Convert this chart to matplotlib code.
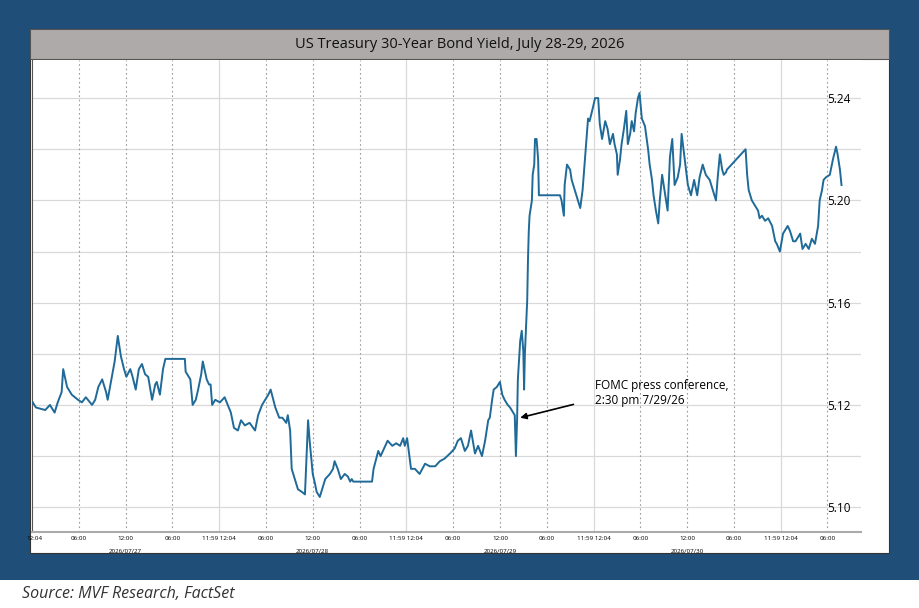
import matplotlib

matplotlib.use("Agg")

import matplotlib.pyplot as plt
from matplotlib.patches import Rectangle
import numpy as np

plt.rcParams["font.family"] = ["Open Sans", "DejaVu Sans"]

# hours since session start (compressed trading axis) and yield in %
HOURS = [
    0.1, 0.5, 1.7, 2.3, 2.9, 3.3, 3.8, 4.0, 4.5, 5.1, 5.9, 6.4, 6.9, 7.7, 8.1, 8.5, 9.0, 9.5, 9.7, 10.3,
    10.6, 11.0, 11.4, 11.8, 12.1, 12.6, 12.9, 13.3, 13.7, 14.1, 14.5, 14.9, 15.4, 15.8, 16.0, 16.4, 16.8, 17.1, 19.6, 19.7,
    20.3, 20.6, 21.0, 21.3, 21.7, 21.9, 22.4, 22.7, 22.9, 23.1, 23.5, 24.1, 24.7, 25.1, 25.5, 25.9, 26.4, 26.8, 27.3, 27.9,
    28.6, 29.0, 29.5, 29.9, 30.3, 30.6, 31.2, 31.7, 32.1, 32.6, 32.8, 33.1, 33.2, 33.3, 33.7, 34.1, 34.6, 35.0, 35.4, 35.6,
    36.0, 36.3, 36.5, 36.9, 37.2, 37.6, 38.2, 38.6, 38.8, 39.2, 39.6, 40.1, 40.5, 40.8, 41.0, 41.2, 43.6, 43.8, 44.4, 44.7,
    45.3, 45.6, 46.2, 46.7, 47.2, 47.6, 47.8, 48.1, 48.6, 49.1, 49.7, 50.4, 51.0, 51.7, 52.3, 52.9, 53.6, 54.2, 54.6, 55.0,
    55.5, 55.9, 56.3, 56.8, 57.2, 57.7, 58.1, 58.5, 58.7, 59.0, 59.2, 59.6, 60.0, 60.3, 60.6, 61.0, 61.3, 61.7, 61.9, 62.05,
    62.2, 62.3, 62.6, 62.8, 63.0, 63.1, 63.2, 63.5, 63.6, 63.7, 63.8, 64.1, 64.2, 64.4, 64.5, 64.7, 64.9, 65.0, 67.7, 67.9,
    68.2, 68.3, 68.6, 69.0, 69.2, 69.6, 70.0, 70.3, 70.6, 70.9, 71.2, 71.3, 71.5, 71.9, 72.2, 72.6, 72.8, 73.1, 73.5, 73.8,
    74.1, 74.5, 74.7, 75.0, 75.1, 75.4, 75.6, 75.9, 76.2, 76.4, 76.7, 76.9, 77.2, 77.4, 77.7, 77.9, 78.2, 78.6, 79.0, 79.2,
    79.5, 79.7, 80.0, 80.3, 80.5, 80.8, 81.2, 81.5, 81.8, 82.1, 82.4, 82.8, 83.1, 83.3, 83.7, 84.1, 84.5, 84.9, 85.3, 85.6,
    86.0, 86.4, 86.9, 87.3, 87.7, 87.9, 88.2, 88.5, 88.7, 89.0, 89.1, 91.5, 91.7, 91.9, 92.3, 92.7, 93.1, 93.3, 93.6, 94.0,
    94.4, 94.9, 95.3, 95.5, 95.9, 96.3, 96.7, 96.9, 97.2, 97.6, 97.9, 98.5, 98.8, 99.2, 99.6, 100.0, 100.4, 100.8, 101.0, 101.3,
    101.5, 101.8, 102.3, 102.7, 103.1, 103.3, 103.6, 103.8,
]
YIELDS = [
    5.121, 5.119, 5.118, 5.120, 5.117, 5.121, 5.125, 5.134, 5.127, 5.124, 5.122, 5.121, 5.123, 5.120, 5.122, 5.127, 5.130, 5.125, 5.122, 5.132,
    5.137, 5.147, 5.139, 5.134, 5.131, 5.134, 5.131, 5.126, 5.134, 5.136, 5.132, 5.131, 5.122, 5.128, 5.129, 5.124, 5.134, 5.138, 5.138, 5.133,
    5.130, 5.120, 5.122, 5.126, 5.132, 5.137, 5.130, 5.128, 5.128, 5.120, 5.122, 5.121, 5.123, 5.120, 5.117, 5.111, 5.110, 5.114, 5.112, 5.113,
    5.110, 5.116, 5.120, 5.122, 5.124, 5.126, 5.119, 5.115, 5.115, 5.113, 5.116, 5.110, 5.102, 5.095, 5.091, 5.087, 5.086, 5.085, 5.114, 5.106,
    5.093, 5.089, 5.086, 5.084, 5.087, 5.091, 5.093, 5.095, 5.098, 5.095, 5.091, 5.093, 5.092, 5.090, 5.091, 5.090, 5.090, 5.095, 5.102, 5.100,
    5.104, 5.106, 5.104, 5.105, 5.104, 5.107, 5.104, 5.107, 5.095, 5.095, 5.093, 5.097, 5.096, 5.096, 5.098, 5.099, 5.101, 5.103, 5.106, 5.107,
    5.102, 5.104, 5.110, 5.101, 5.104, 5.100, 5.106, 5.114, 5.115, 5.122, 5.126, 5.127, 5.129, 5.124, 5.122, 5.120, 5.119, 5.117, 5.116, 5.100,
    5.114, 5.130, 5.145, 5.149, 5.141, 5.126, 5.140, 5.161, 5.177, 5.188, 5.194, 5.200, 5.210, 5.214, 5.224, 5.224, 5.216, 5.202, 5.202, 5.200,
    5.194, 5.206, 5.214, 5.212, 5.208, 5.204, 5.200, 5.197, 5.204, 5.216, 5.228, 5.232, 5.231, 5.236, 5.240, 5.240, 5.230, 5.224, 5.231, 5.228,
    5.222, 5.226, 5.222, 5.218, 5.210, 5.216, 5.222, 5.228, 5.235, 5.222, 5.226, 5.231, 5.227, 5.234, 5.240, 5.242, 5.232, 5.229, 5.220, 5.214,
    5.208, 5.202, 5.196, 5.191, 5.200, 5.210, 5.202, 5.196, 5.217, 5.224, 5.206, 5.209, 5.214, 5.226, 5.216, 5.206, 5.202, 5.208, 5.202, 5.209,
    5.214, 5.210, 5.208, 5.204, 5.200, 5.208, 5.218, 5.212, 5.210, 5.211, 5.212, 5.220, 5.210, 5.204, 5.200, 5.198, 5.196, 5.193, 5.194, 5.192,
    5.193, 5.190, 5.184, 5.183, 5.180, 5.187, 5.189, 5.190, 5.188, 5.184, 5.184, 5.187, 5.181, 5.183, 5.181, 5.185, 5.183, 5.190, 5.200, 5.204,
    5.208, 5.209, 5.210, 5.216, 5.221, 5.218, 5.212, 5.206,
]
TICK_HOURS = [0.3, 6, 12, 18, 24, 30, 36, 42, 48, 54, 60, 66, 72, 78, 84, 90, 96, 102]
TICK_LABELS = ["12:04", "06:00", "12:00", "06:00", "11:59 12:04", "06:00", "12:00", "06:00", "11:59 12:04",
               "06:00", "12:00", "06:00", "11:59 12:04", "06:00", "12:00", "06:00", "11:59 12:04", "06:00"]
DATE_HOURS = [12, 36, 60, 84]
DATE_LABELS = ["2026/07/27", "2026/07/28", "2026/07/29", "2026/07/30"]
Y_TICKS = [5.24, 5.20, 5.16, 5.12, 5.08]
Y_LABELS = ["5.24", "5.20", "5.16", "5.12", "5.10"]

W, H = 919, 608
fig = plt.figure(figsize=(W / 100, H / 100), dpi=100)
fig.patch.set_facecolor("white")


def box(x0, y0, x1, y1, **kw):
    fig.patches.append(Rectangle((x0 / W, 1 - y1 / H), (x1 - x0) / W, (y1 - y0) / H,
                                 transform=fig.transFigure, **kw))


box(0, 0, W, 580, facecolor="#1F4E79", edgecolor="none", zorder=-3)
box(30, 29, 889, 553, facecolor="white", edgecolor="#333333", lw=0.8, zorder=-2)
box(30, 29, 889, 59, facecolor="#AEAAAA", edgecolor="#555555", lw=0.8, zorder=-1)
fig.text((30 + 889) / 2 / W, 1 - 44 / H, "US Treasury 30-Year Bond Yield, July 28-29, 2026",
         ha="center", va="center", fontsize=10.5, color="#111111")
fig.text(22 / W, 1 - 594 / H, "Source: MVF Research, FactSet", ha="left", va="center",
         fontsize=11.5, style="italic", color="#333333")

ax = fig.add_axes([32 / W, 1 - 532 / H, 829 / W, 472 / H])
ax.set_zorder(2)
ax.set_facecolor("white")
ax.set_xlim(0, 106.3)
ax.set_ylim(5.0703, 5.2549)

for v in np.arange(5.08, 5.25, 0.02):
    ax.axhline(v, color="#D9D9D9", lw=0.9, zorder=1)
for h in TICK_HOURS[1:]:
    if h % 24 == 0:
        ax.axvline(h, color="#D9D9D9", lw=0.9, zorder=1)
    else:
        ax.axvline(h, color="#9A9A9A", lw=0.8, ls=(0, (1.5, 2.5)), zorder=1)

ax.plot(HOURS, YIELDS, color="#1F6A98", lw=1.4, zorder=3)

ax.annotate("FOMC press conference,\n2:30 pm 7/29/26", xy=(62.6, 5.115), xytext=(72.2, 5.1245),
            fontsize=8.5, va="center", ha="left",
            arrowprops=dict(arrowstyle="-|>", color="black", lw=1.2, mutation_scale=9,
                            shrinkA=14, shrinkB=0, relpos=(0, 0.3)))

for s in ["top", "right"]:
    ax.spines[s].set_visible(False)
ax.spines["left"].set_color("#555555")
ax.spines["bottom"].set_color("#AAAAAA")
ax.spines["bottom"].set_linewidth(1.5)

ax.set_xticks(TICK_HOURS)
ax.set_xticklabels(TICK_LABELS, fontsize=4.5)
ax.tick_params(axis="x", length=0, pad=3)
for h, lab in zip(DATE_HOURS, DATE_LABELS):
    ax.text(h, -0.035, lab, transform=ax.get_xaxis_transform(), ha="center", va="top", fontsize=4.5)

ax.yaxis.tick_right()
ax.set_yticks(Y_TICKS)
ax.set_yticklabels(Y_LABELS, fontsize=8.5)
ax.tick_params(axis="y", length=0, pad=-24)
for t in ax.get_yticklabels():
    t.set_zorder(5)

fig.savefig("out.png", dpi=100, facecolor=fig.get_facecolor())
